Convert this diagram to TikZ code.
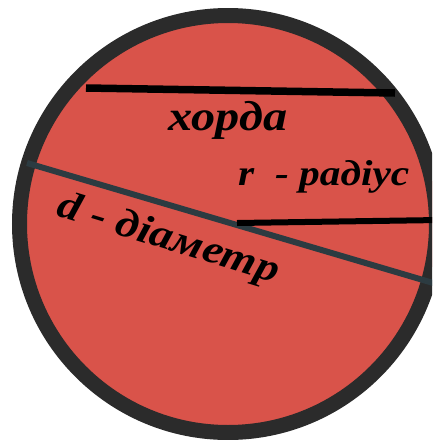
\documentclass[tikz,border=0pt]{standalone}
\usepackage{fontspec}
\setmainfont{Liberation Serif}[BoldItalicFeatures={FakeStretch=1.15}]
\usetikzlibrary{calc}

\definecolor{circlered}{HTML}{D9534A}
\definecolor{rimgrey}{HTML}{2B2B2B}
\definecolor{diamgrey}{HTML}{2C3B41}

\begin{document}
\begin{tikzpicture}[x=1pt, y=-1pt, word/.style={font=\fontsize{#1}{#1}\selectfont\bfseries\itshape, inner sep=0pt, anchor=base}, word/.default=40, chordline/.style={line width=7.5pt, draw=black}, diamline/.style={line width=6pt, draw=diamgrey}, radline/.style={line width=6pt, draw=black}]
        % Fix the frame of the picture
        \useasboundingbox (0,0) rectangle (432,440);
        \clip (0,0) rectangle (432,440);

        % Draw the circle
        \coordinate (o) at (228,224);
        \draw[line width=15pt, draw=rimgrey, fill=circlered] (o) circle (208.5);

        % Ends of the lines
        \coordinate (ch1) at (86,88);
        \coordinate (ch2) at (395,93);
        \coordinate (d1) at (27,163);
        \coordinate (d2) at (440,285);
        \coordinate (r1) at (237,223);
        \coordinate (r2) at (440,220);

        \draw[chordline] (ch1) -- (ch2);
        \draw[diamline] (d1) -- (d2);
        \draw[radline] (r1) -- (r2);

        % Labels
        \node[word=42] (chord) at (228,130) {хорда};
        \node[word=36, anchor=base west] (rad) at (238,185) {r\ \ - радіус};
        \node[word=40, anchor=center, rotate=-17] (diam) at (168,240) {d - діаметр};
      \end{tikzpicture}
\end{document}
